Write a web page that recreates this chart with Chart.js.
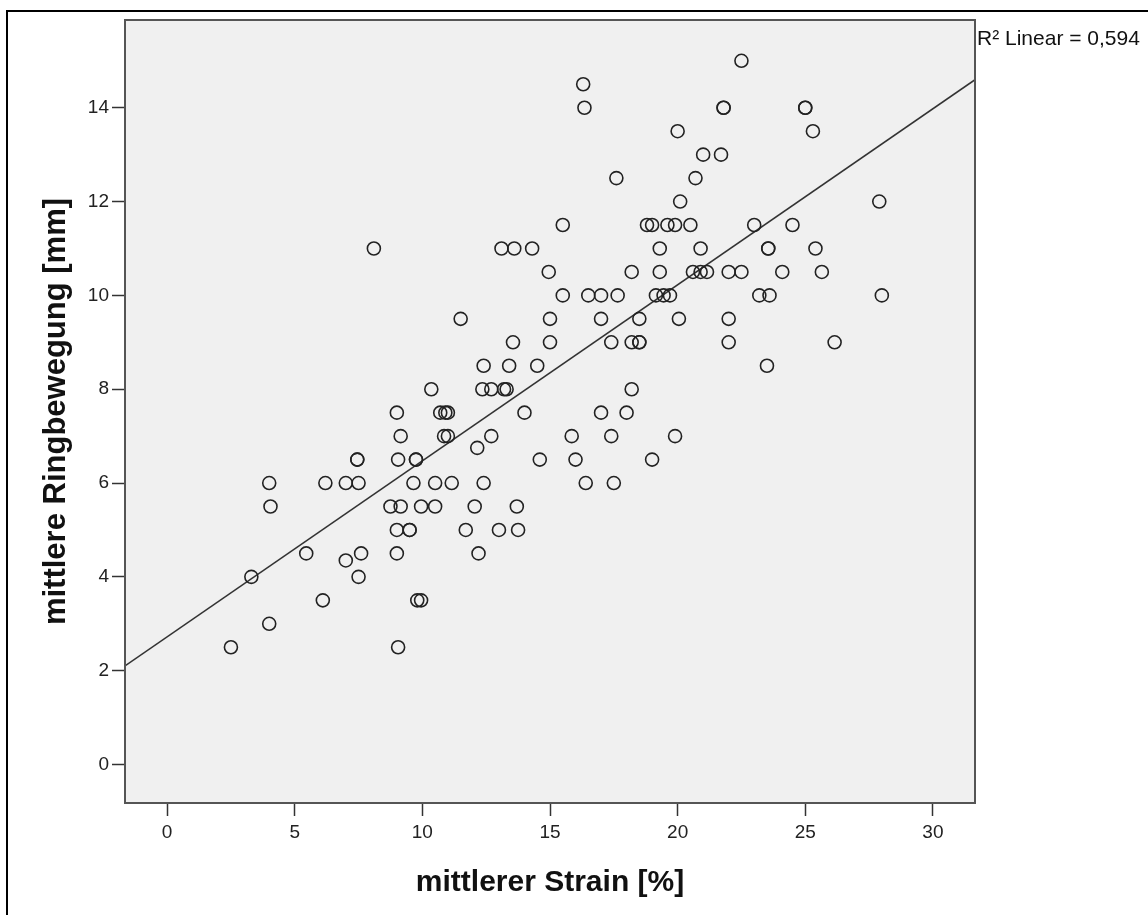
<!DOCTYPE html>
<html lang="de">
<head>
<meta charset="utf-8">
<title>Strain vs. Ringbewegung</title>
<script src="https://cdn.jsdelivr.net/npm/chart.js@4.4.1/dist/chart.umd.min.js"></script>
<style>
    html, body { margin: 0; padding: 0; background: #fff; }
    #scatterChart { display: block; }
</style>
</head>
<body>
<canvas id="scatterChart" width="1148" height="915"></canvas>
<script>
// mittlerer Strain [%] (x) und mittlere Ringbewegung [mm] (y), paarweise
const strain = [
    22.5,
    16.3,
    16.35, 21.8, 21.8, 25.0, 25.0,
    20.0, 25.3,
    21.0, 21.7,
    17.6, 20.7,
    20.1, 27.9,
    15.5, 18.8, 19.0, 19.6, 19.9, 20.5, 23.0, 24.5,
    8.1, 13.1, 13.6, 14.3, 19.3, 20.9, 23.55, 23.55, 25.4,
    14.95, 18.2, 19.3, 20.6, 20.9, 21.15, 22.0, 22.5, 24.1, 25.65,
    15.5, 16.5, 17.0, 17.65, 19.15, 19.45, 19.7, 23.2, 23.6, 28.0,
    11.5, 15.0, 17.0, 18.5, 20.05, 22.0,
    13.55, 15.0, 17.4, 18.2, 18.5, 18.5, 22.0, 26.15,
    12.4, 13.4, 14.5, 23.5,
    10.35, 12.35, 12.7, 13.2, 13.3, 18.2,
    9.0, 10.7, 10.9, 11.0, 14.0, 17.0, 18.0,
    9.15, 10.85, 11.0, 12.7, 15.85, 17.4, 19.9,
    12.15,
    7.45, 7.45, 9.05, 9.75, 9.75, 14.6, 16.0, 19.0,
    4.0, 6.2, 7.0, 7.5, 9.65, 10.5, 11.15, 12.4, 16.4, 17.5,
    4.05, 8.75, 9.15, 9.95, 10.5, 12.05, 13.7,
    9.0, 9.5, 9.5, 11.7, 13.0, 13.75,
    5.45, 7.6, 9.0, 12.2,
    7.0,
    3.3, 7.5,
    6.1, 9.8, 9.95,
    4.0,
    2.5, 9.05
];
const ringMovement = [
    15,
    14.5,
    14, 14, 14, 14, 14,
    13.5, 13.5,
    13, 13,
    12.5, 12.5,
    12, 12,
    11.5, 11.5, 11.5, 11.5, 11.5, 11.5, 11.5, 11.5,
    11, 11, 11, 11, 11, 11, 11, 11, 11,
    10.5, 10.5, 10.5, 10.5, 10.5, 10.5, 10.5, 10.5, 10.5, 10.5,
    10, 10, 10, 10, 10, 10, 10, 10, 10, 10,
    9.5, 9.5, 9.5, 9.5, 9.5, 9.5,
    9, 9, 9, 9, 9, 9, 9, 9,
    8.5, 8.5, 8.5, 8.5,
    8, 8, 8, 8, 8, 8,
    7.5, 7.5, 7.5, 7.5, 7.5, 7.5, 7.5,
    7, 7, 7, 7, 7, 7, 7,
    6.75,
    6.5, 6.5, 6.5, 6.5, 6.5, 6.5, 6.5, 6.5,
    6, 6, 6, 6, 6, 6, 6, 6, 6, 6,
    5.5, 5.5, 5.5, 5.5, 5.5, 5.5, 5.5,
    5, 5, 5, 5, 5, 5,
    4.5, 4.5, 4.5, 4.5,
    4.35,
    4, 4,
    3.5, 3.5, 3.5,
    3,
    2.5, 2.5
];
const xTicks = [0, 5, 10, 15, 20, 25, 30];
const yTicks = [0, 2, 4, 6, 8, 10, 12, 14];
const xRange = [-1.65, 31.65];
const yRange = [-0.82, 15.87];
const fitLabel = 'R² Linear = 0,594';

document.addEventListener('DOMContentLoaded', function() {
    const fontFamily = '"Liberation Sans", Arial, sans-serif';

    // Linear fit (least squares) from the data
    const n = strain.length;
    const meanX = strain.reduce((a, b) => a + b, 0) / n;
    const meanY = ringMovement.reduce((a, b) => a + b, 0) / n;
    let sxy = 0, sxx = 0;
    for (let i = 0; i < n; i++) {
        sxy += (strain[i] - meanX) * (ringMovement[i] - meanY);
        sxx += (strain[i] - meanX) * (strain[i] - meanX);
    }
    const slope = sxy / sxx;
    const intercept = meanY - slope * meanX;
    const fitLine = xRange.map(x => ({ x: x, y: intercept + slope * x }));

    // Grey plot area, outer frame, plot border and fit label
    const plotFrame = {
        id: 'plotFrame',
        beforeDraw(chart) {
            const { ctx, chartArea: a } = chart;
            ctx.save();
            ctx.fillStyle = '#f0f0f0';
            ctx.fillRect(a.left, a.top, a.right - a.left, a.bottom - a.top);
            ctx.strokeStyle = '#000';
            ctx.lineWidth = 2;
            ctx.beginPath();
            ctx.moveTo(7, chart.height);
            ctx.lineTo(7, 11);
            ctx.lineTo(chart.width, 11);
            ctx.stroke();
            ctx.restore();
        },
        afterDatasetsDraw(chart) {
            const { ctx, chartArea: a } = chart;
            ctx.save();
            ctx.strokeStyle = '#555';
            ctx.lineWidth = 2;
            ctx.strokeRect(a.left, a.top, a.right - a.left, a.bottom - a.top);
            ctx.fillStyle = '#111';
            ctx.font = '21px ' + fontFamily;
            ctx.textBaseline = 'alphabetic';
            ctx.fillText(fitLabel, a.right + 2, 45);
            ctx.restore();
        }
    };

    const ctx = document.getElementById('scatterChart').getContext('2d');
    const scatterChart = new Chart(ctx, {
        type: 'scatter',
        data: {
            datasets: [{
                label: 'Messwerte',
                data: strain.map((x, i) => ({ x: x, y: ringMovement[i] })),
                pointStyle: 'circle',
                pointRadius: 6.5,
                pointHoverRadius: 6.5,
                pointBorderWidth: 1.6,
                pointBorderColor: '#222',
                pointBackgroundColor: 'rgba(0, 0, 0, 0)'
            }, {
                type: 'line',
                label: 'Linear',
                data: fitLine,
                borderColor: '#333',
                borderWidth: 1.5,
                pointRadius: 0,
                fill: false
            }]
        },
        options: {
            responsive: false,
            animation: false,
            layout: {
                padding: { top: 20, right: 173, bottom: 0, left: 0 }
            },
            plugins: {
                legend: { display: false },
                tooltip: { enabled: false }
            },
            scales: {
                x: {
                    type: 'linear',
                    min: xRange[0],
                    max: xRange[1],
                    afterBuildTicks: scale => { scale.ticks = xTicks.map(v => ({ value: v })); },
                    afterFit: scale => { scale.height = 112; },
                    border: { display: false },
                    grid: {
                        drawOnChartArea: false,
                        tickLength: 13,
                        tickWidth: 1.5,
                        tickColor: '#333'
                    },
                    ticks: {
                        color: '#222',
                        padding: 5,
                        maxRotation: 0,
                        font: { family: fontFamily, size: 19 }
                    },
                    title: {
                        display: true,
                        text: 'mittlerer Strain [%]',
                        color: '#111',
                        padding: { top: 0, bottom: 14 },
                        font: { family: fontFamily, size: 30, weight: 'bold' }
                    }
                },
                y: {
                    type: 'linear',
                    min: yRange[0],
                    max: yRange[1],
                    afterBuildTicks: scale => { scale.ticks = yTicks.map(v => ({ value: v })); },
                    afterFit: scale => { scale.width = 125; },
                    border: { display: false },
                    grid: {
                        drawOnChartArea: false,
                        tickLength: 13,
                        tickWidth: 1.5,
                        tickColor: '#333'
                    },
                    ticks: {
                        color: '#222',
                        padding: 3,
                        font: { family: fontFamily, size: 19 }
                    },
                    title: {
                        display: true,
                        text: 'mittlere Ringbewegung [mm]',
                        color: '#111',
                        padding: { top: 38, bottom: 0 },
                        font: { family: fontFamily, size: 31, weight: 'bold' }
                    }
                }
            }
        },
        plugins: [plotFrame]
    });
});
</script>
</body>
</html>
